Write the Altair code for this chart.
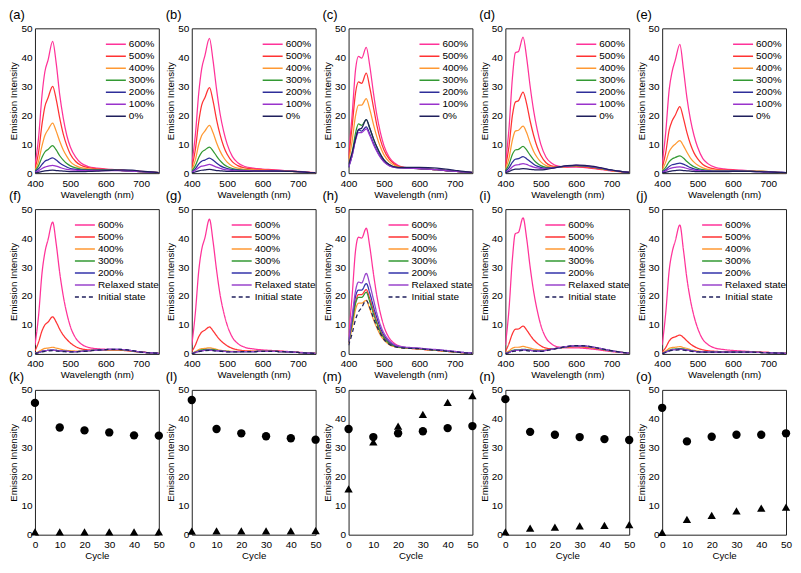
import altair as alt
import pandas as pd

FONT = "Liberation Sans"

# Wavelength grid (nm)
WL = [400, 410, 420, 428, 437, 450, 460, 470, 480, 490, 500, 515, 530, 550, 575, 600, 625, 650, 675, 700, 725, 750]

LOAD_NAMES = ["600%", "500%", "400%", "300%", "200%", "100%", "0%"]
LOAD_COLORS = ["#FF3399", "#FF3333", "#FF9933", "#339933", "#2E2E99", "#9933CC", "#1F1F5C"]
RELAX_NAMES = ["600%", "500%", "400%", "300%", "200%", "Relaxed state", "Initial state"]
RELAX_COLORS = ["#FF3399", "#FF3333", "#FF9933", "#339933", "#3333AA", "#9944CC", "#1F1F5C"]
RELAX_DASH = [[1, 0], [1, 0], [1, 0], [1, 0], [1, 0], [1, 0], [4, 3]]

PANEL_A = {
    "600%": [2.5, 12, 27, 35, 39, 45.5, 38, 27, 19, 13, 9, 5.5, 3.5, 2.3, 1.7, 1.4, 1.2, 1.0, 0.8, 0.6, 0.4, 0.2],
    "500%": [1.5, 7, 17, 23, 26, 30, 25.5, 19, 13.5, 9.5, 6.5, 4, 2.7, 1.9, 1.5, 1.3, 1.1, 0.9, 0.7, 0.5, 0.35, 0.2],
    "400%": [1, 4, 9.5, 13, 15, 17.3, 14.5, 11, 8, 5.8, 4, 2.6, 1.9, 1.5, 1.3, 1.2, 1.1, 0.9, 0.7, 0.5, 0.35, 0.2],
    "300%": [0.7, 2.5, 5.5, 7.3, 8.2, 9.5, 8, 6, 4.5, 3.3, 2.5, 1.8, 1.4, 1.2, 1.1, 1.1, 1.0, 0.9, 0.7, 0.5, 0.35, 0.2],
    "200%": [0.5, 1.5, 3, 4.1, 4.6, 5.3, 4.5, 3.5, 2.7, 2.1, 1.6, 1.3, 1.1, 1.0, 1.0, 1.0, 1.0, 0.9, 0.7, 0.5, 0.35, 0.2],
    "100%": [0.3, 0.8, 1.6, 2.1, 2.4, 2.7, 2.4, 2.0, 1.6, 1.3, 1.1, 1.0, 0.9, 0.9, 0.9, 0.9, 0.9, 0.8, 0.7, 0.5, 0.35, 0.2],
    "0%": [0.1, 0.3, 0.6, 0.8, 0.9, 1.0, 0.9, 0.8, 0.7, 0.6, 0.55, 0.5, 0.5, 0.6, 0.7, 0.9, 1.0, 1.1, 1.0, 0.7, 0.4, 0.2],
}
PANEL_B = {
    "600%": [3, 13, 28, 36, 40.5, 46.5, 39, 29, 20.5, 14.5, 10, 5.7, 3.6, 2.3, 1.7, 1.4, 1.2, 1.0, 0.8, 0.6, 0.4, 0.2],
    "500%": [1.8, 8, 18, 23.5, 26, 29.5, 25, 18.5, 13.3, 9.3, 6.5, 3.9, 2.6, 1.8, 1.4, 1.2, 1.0, 0.9, 0.7, 0.5, 0.3, 0.2],
    "400%": [1, 4.5, 10, 13, 14.5, 16.5, 14, 10.5, 7.6, 5.4, 3.8, 2.4, 1.7, 1.3, 1.1, 1.0, 0.9, 0.8, 0.6, 0.5, 0.3, 0.2],
    "300%": [0.6, 2.5, 5.5, 7.2, 8, 9, 7.7, 5.9, 4.3, 3.1, 2.3, 1.6, 1.2, 1.0, 0.9, 0.9, 0.8, 0.7, 0.6, 0.5, 0.3, 0.2],
    "200%": [0.4, 1.5, 3.2, 4.1, 4.5, 5.2, 4.5, 3.5, 2.6, 2.0, 1.6, 1.2, 1.0, 0.9, 0.8, 0.8, 0.8, 0.7, 0.6, 0.5, 0.3, 0.2],
    "100%": [0.3, 1, 1.9, 2.4, 2.6, 3, 2.6, 2.1, 1.7, 1.3, 1.1, 0.9, 0.8, 0.8, 0.8, 0.8, 0.7, 0.7, 0.6, 0.5, 0.3, 0.2],
    "0%": [0.1, 0.4, 0.8, 1.0, 1.1, 1.3, 1.1, 0.9, 0.8, 0.7, 0.6, 0.6, 0.6, 0.6, 0.7, 0.7, 0.7, 0.7, 0.6, 0.5, 0.3, 0.2],
}
PANEL_C = {
    "600%": [6, 20, 36, 40.3, 39.7, 43.4, 37, 28, 20, 14, 9.5, 5.5, 3.5, 2.2, 1.8, 1.6, 1.4, 1.2, 0.9, 0.7, 0.4, 0.2],
    "500%": [5, 16, 28, 31.5, 31, 34.5, 29.5, 23, 16.5, 11.5, 8, 4.8, 3.1, 2.1, 1.8, 1.6, 1.4, 1.2, 0.9, 0.7, 0.4, 0.2],
    "400%": [4, 11, 20, 23.5, 23.5, 25.7, 22, 17, 12.5, 9, 6.3, 3.9, 2.7, 2.0, 1.8, 1.6, 1.4, 1.2, 0.9, 0.7, 0.4, 0.2],
    "300%": [2, 7, 14, 17, 16.5, 18.5, 15.5, 12, 9, 6.5, 4.6, 2.9, 2.1, 1.8, 1.7, 1.6, 1.4, 1.2, 0.9, 0.7, 0.4, 0.2],
    "200%": [2, 6, 12, 15, 14.5, 16, 13.5, 10.5, 7.8, 5.6, 4, 2.6, 2, 1.8, 1.7, 1.6, 1.4, 1.2, 0.9, 0.7, 0.4, 0.2],
    "100%": [2, 6, 11.5, 14, 14, 15.3, 13, 10, 7.5, 5.4, 3.9, 2.6, 2, 1.8, 1.7, 1.6, 1.4, 1.2, 0.9, 0.7, 0.4, 0.2],
    "0%": [3, 7, 12, 15, 15.5, 18.5, 15.5, 12, 9, 6.5, 4.6, 3, 2.2, 2.0, 2.0, 2.0, 1.9, 1.7, 1.4, 1.0, 0.6, 0.3],
}
PANEL_D = {
    "600%": [3, 15, 33, 41.5, 42, 47, 40, 30, 21.5, 15, 10, 5.5, 3.5, 2.4, 2.1, 2.1, 1.9, 1.6, 1.2, 0.8, 0.5, 0.3],
    "500%": [2, 9, 20, 24.5, 25, 28, 24, 18, 13, 9, 6.2, 3.6, 2.5, 2.1, 2.2, 2.3, 2.1, 1.7, 1.3, 0.9, 0.5, 0.3],
    "400%": [1.3, 5, 11.5, 14.5, 14.8, 16.2, 14, 10.5, 7.5, 5.4, 3.9, 2.6, 2.1, 2.1, 2.3, 2.5, 2.3, 1.9, 1.4, 0.9, 0.5, 0.3],
    "300%": [0.8, 3, 6.5, 8, 8.2, 9.2, 8, 6.2, 4.6, 3.4, 2.6, 2, 1.9, 2.1, 2.4, 2.6, 2.4, 2.0, 1.5, 1.0, 0.6, 0.3],
    "200%": [0.5, 1.8, 3.8, 4.8, 5, 5.7, 5, 4, 3.1, 2.4, 2, 1.7, 1.8, 2.1, 2.5, 2.7, 2.5, 2.1, 1.6, 1.0, 0.6, 0.3],
    "100%": [0.3, 1, 2.2, 2.8, 2.9, 3.3, 3, 2.5, 2.1, 1.8, 1.6, 1.5, 1.7, 2.1, 2.5, 2.7, 2.6, 2.2, 1.6, 1.0, 0.6, 0.3],
    "0%": [0.2, 0.5, 1.1, 1.4, 1.4, 1.6, 1.5, 1.3, 1.2, 1.1, 1.1, 1.3, 1.6, 2.1, 2.6, 2.8, 2.7, 2.3, 1.7, 1.1, 0.6, 0.3],
}
PANEL_E = {
    "600%": [3, 14, 29, 35, 39, 44.5, 36, 26, 18.5, 13, 9, 5, 3.2, 2.0, 1.5, 1.2, 1.0, 0.8, 0.6, 0.5, 0.3, 0.2],
    "500%": [1.8, 7, 15, 18, 20, 23, 19, 14, 10, 7, 5, 3, 2, 1.4, 1.1, 1.0, 0.9, 0.7, 0.6, 0.5, 0.3, 0.2],
    "400%": [1, 3.8, 7.5, 9, 10, 11.2, 9.5, 7.2, 5.2, 3.8, 2.8, 1.8, 1.3, 1.0, 0.9, 0.8, 0.8, 0.7, 0.6, 0.5, 0.3, 0.2],
    "300%": [0.6, 2, 4, 4.9, 5.4, 6, 5.2, 4, 3, 2.2, 1.7, 1.2, 0.9, 0.8, 0.8, 0.8, 0.7, 0.7, 0.6, 0.5, 0.3, 0.2],
    "200%": [0.4, 1.2, 2.3, 2.9, 3.1, 3.5, 3.1, 2.5, 1.9, 1.5, 1.2, 0.9, 0.8, 0.7, 0.7, 0.7, 0.7, 0.6, 0.5, 0.4, 0.3, 0.2],
    "100%": [0.3, 0.8, 1.5, 1.8, 2.0, 2.2, 2.0, 1.6, 1.3, 1.0, 0.9, 0.7, 0.6, 0.6, 0.6, 0.6, 0.6, 0.6, 0.5, 0.4, 0.3, 0.2],
    "0%": [0.1, 0.3, 0.6, 0.8, 0.9, 1.0, 0.9, 0.8, 0.7, 0.6, 0.5, 0.5, 0.5, 0.5, 0.5, 0.6, 0.6, 0.6, 0.5, 0.4, 0.3, 0.2],
}
PANEL_F = {
    "600%": [3, 13, 28, 35, 39.5, 45.5, 38, 28, 20, 14, 9.5, 5.5, 3.5, 2.3, 1.8, 1.6, 1.5, 1.4, 1.0, 0.7, 0.4, 0.2],
    "500%": [1, 4, 8, 10, 11, 12.8, 11, 8.5, 6.5, 5, 3.8, 2.5, 1.8, 1.4, 1.3, 1.3, 1.3, 1.2, 0.9, 0.6, 0.4, 0.2],
    "400%": [0.3, 0.8, 1.5, 1.9, 2.0, 2.3, 2.0, 1.7, 1.4, 1.2, 1.1, 1.0, 1.0, 1.1, 1.3, 1.5, 1.5, 1.4, 1.0, 0.6, 0.4, 0.2],
    "300%": [0.2, 0.5, 0.9, 1.1, 1.2, 1.3, 1.2, 1.1, 1.0, 0.9, 0.8, 0.8, 0.9, 1.1, 1.3, 1.5, 1.5, 1.4, 1.0, 0.6, 0.4, 0.2],
    "200%": [0.2, 0.5, 0.9, 1.1, 1.2, 1.3, 1.2, 1.1, 1.0, 0.9, 0.8, 0.8, 0.9, 1.1, 1.3, 1.5, 1.6, 1.5, 1.1, 0.6, 0.4, 0.2],
    "Relaxed state": [0.2, 0.5, 0.9, 1.1, 1.2, 1.3, 1.2, 1.1, 1.0, 0.9, 0.8, 0.8, 0.9, 1.1, 1.3, 1.5, 1.6, 1.5, 1.1, 0.6, 0.4, 0.2],
    "Initial state": [0.1, 0.4, 0.7, 0.9, 1.0, 1.1, 1.0, 0.9, 0.8, 0.7, 0.7, 0.7, 0.8, 1.0, 1.3, 1.5, 1.6, 1.5, 1.1, 0.6, 0.4, 0.2],
}
PANEL_G = {
    "600%": [3, 14, 29, 36, 40, 46.5, 39, 29, 20.5, 14.5, 10, 5.7, 3.6, 2.3, 1.7, 1.4, 1.2, 1.0, 0.8, 0.6, 0.4, 0.2],
    "500%": [0.8, 3, 6, 7.5, 8.2, 9.3, 8, 6.3, 4.8, 3.7, 2.8, 1.9, 1.4, 1.1, 1.0, 1.0, 1.0, 0.9, 0.7, 0.5, 0.3, 0.2],
    "400%": [0.3, 0.8, 1.5, 1.8, 1.9, 2.1, 1.9, 1.6, 1.3, 1.1, 1.0, 0.9, 0.9, 0.9, 0.9, 0.9, 0.9, 0.8, 0.7, 0.5, 0.3, 0.2],
    "300%": [0.2, 0.6, 1.1, 1.4, 1.5, 1.6, 1.5, 1.3, 1.1, 1.0, 0.9, 0.8, 0.8, 0.8, 0.8, 0.9, 0.9, 0.8, 0.7, 0.5, 0.3, 0.2],
    "200%": [0.2, 0.5, 0.9, 1.1, 1.2, 1.3, 1.2, 1.1, 1.0, 0.9, 0.8, 0.8, 0.8, 0.8, 0.8, 0.9, 0.9, 0.8, 0.7, 0.5, 0.3, 0.2],
    "Relaxed state": [0.2, 0.5, 0.9, 1.1, 1.2, 1.3, 1.2, 1.1, 1.0, 0.9, 0.8, 0.8, 0.8, 0.8, 0.8, 0.9, 0.9, 0.8, 0.7, 0.5, 0.3, 0.2],
    "Initial state": [0.1, 0.4, 0.8, 1.0, 1.1, 1.2, 1.1, 1.0, 0.9, 0.8, 0.7, 0.7, 0.7, 0.8, 0.8, 0.9, 0.9, 0.8, 0.7, 0.5, 0.3, 0.2],
}
PANEL_H = {
    "600%": [6, 20, 36, 40.3, 40, 43.4, 37, 28, 20, 14, 9.5, 5.5, 3.6, 2.5, 2.0, 1.7, 1.4, 1.2, 0.9, 0.7, 0.4, 0.2],
    "500%": [4, 11, 18, 20.5, 20.5, 22.2, 19, 15, 11, 8, 5.8, 3.8, 2.8, 2.2, 1.9, 1.7, 1.4, 1.2, 0.9, 0.7, 0.4, 0.2],
    "400%": [3.5, 9, 15.5, 17.5, 17.5, 18.5, 15.5, 12, 9, 6.5, 4.8, 3.2, 2.5, 2.1, 1.9, 1.7, 1.4, 1.2, 0.9, 0.7, 0.4, 0.2],
    "300%": [4, 10.5, 17.5, 19.5, 19.5, 21.3, 18, 14, 10.5, 7.5, 5.5, 3.6, 2.7, 2.2, 2.0, 1.8, 1.5, 1.3, 1.0, 0.7, 0.4, 0.2],
    "200%": [4, 12, 20, 22, 22, 24.3, 21, 16.5, 12.5, 9, 6.5, 4.2, 3.0, 2.4, 2.1, 1.9, 1.6, 1.4, 1.1, 0.8, 0.5, 0.3],
    "Relaxed state": [4.5, 13, 22, 24.8, 24.5, 27.8, 24, 19, 14, 10, 7.2, 4.6, 3.2, 2.5, 2.2, 2.0, 1.7, 1.5, 1.2, 0.9, 0.5, 0.3],
    "Initial state": [3, 7, 12, 14.5, 16, 18.5, 16, 12.5, 9.5, 7, 5, 3.3, 2.5, 2.1, 1.9, 1.8, 1.5, 1.3, 1.0, 0.7, 0.4, 0.2],
}
PANEL_I = {
    "600%": [3, 15, 33, 41.5, 42, 47, 40, 30, 21.5, 15, 10, 5.5, 3.5, 2.4, 2.1, 2.1, 1.9, 1.6, 1.2, 0.8, 0.5, 0.3],
    "500%": [0.8, 3.5, 7, 8.5, 8.6, 9.6, 8.3, 6.5, 4.9, 3.7, 2.8, 2.0, 1.8, 2.0, 2.3, 2.5, 2.3, 2.0, 1.5, 1.0, 0.6, 0.3],
    "400%": [0.3, 1, 2, 2.3, 2.3, 2.6, 2.3, 2, 1.7, 1.5, 1.4, 1.4, 1.6, 2.0, 2.4, 2.6, 2.5, 2.1, 1.6, 1.0, 0.6, 0.3],
    "300%": [0.2, 0.6, 1.2, 1.4, 1.4, 1.6, 1.5, 1.3, 1.2, 1.1, 1.1, 1.3, 1.6, 2.0, 2.5, 2.7, 2.6, 2.2, 1.6, 1.0, 0.6, 0.3],
    "200%": [0.2, 0.5, 1.0, 1.2, 1.2, 1.4, 1.3, 1.2, 1.1, 1.0, 1.0, 1.2, 1.6, 2.0, 2.5, 2.8, 2.7, 2.3, 1.7, 1.1, 0.6, 0.3],
    "Relaxed state": [0.2, 0.5, 1.0, 1.2, 1.2, 1.4, 1.3, 1.2, 1.1, 1.0, 1.0, 1.2, 1.6, 2.1, 2.6, 2.8, 2.7, 2.3, 1.7, 1.1, 0.6, 0.3],
    "Initial state": [0.1, 0.4, 0.8, 1.0, 1.0, 1.2, 1.1, 1.0, 1.0, 0.9, 0.9, 1.1, 1.5, 2.0, 2.6, 2.9, 2.8, 2.3, 1.7, 1.1, 0.6, 0.3],
}
PANEL_J = {
    "600%": [3, 14, 29, 35, 39, 44.5, 36, 26, 18.5, 13, 9, 5, 3.2, 2.0, 1.5, 1.2, 1.0, 0.8, 0.6, 0.5, 0.3, 0.2],
    "500%": [0.6, 2.2, 4.5, 5.5, 5.9, 6.5, 5.7, 4.5, 3.4, 2.6, 2.0, 1.4, 1.1, 0.9, 0.8, 0.8, 0.8, 0.7, 0.6, 0.5, 0.3, 0.2],
    "400%": [0.3, 1, 1.9, 2.2, 2.3, 2.5, 2.2, 1.9, 1.5, 1.2, 1.0, 0.8, 0.7, 0.7, 0.7, 0.7, 0.7, 0.6, 0.5, 0.4, 0.3, 0.2],
    "300%": [0.2, 0.7, 1.3, 1.6, 1.7, 1.8, 1.7, 1.4, 1.2, 1.0, 0.8, 0.7, 0.6, 0.6, 0.6, 0.6, 0.6, 0.6, 0.5, 0.4, 0.3, 0.2],
    "200%": [0.2, 0.6, 1.1, 1.4, 1.5, 1.6, 1.5, 1.3, 1.1, 0.9, 0.8, 0.7, 0.6, 0.6, 0.6, 0.6, 0.6, 0.6, 0.5, 0.4, 0.3, 0.2],
    "Relaxed state": [0.2, 0.6, 1.1, 1.4, 1.5, 1.6, 1.5, 1.3, 1.1, 0.9, 0.8, 0.7, 0.6, 0.6, 0.6, 0.6, 0.6, 0.6, 0.5, 0.4, 0.3, 0.2],
    "Initial state": [0.1, 0.5, 1.0, 1.2, 1.3, 1.4, 1.3, 1.1, 1.0, 0.8, 0.7, 0.6, 0.6, 0.6, 0.6, 0.6, 0.6, 0.6, 0.5, 0.4, 0.3, 0.2],
}

CYCLES = [0, 10, 20, 30, 40, 50]
K_CIRCLE = [45.5, 37, 36, 35.3, 34.3, 34.2]
K_TRIANGLE = [1.0, 1.0, 1.0, 1.0, 1.0, 1.0]
L_CIRCLE = [46.5, 36.5, 35, 34, 33.3, 32.8]
L_TRIANGLE = [1.2, 1.3, 1.3, 1.3, 1.3, 1.4]
M_CIRCLE = [36.5, 33.7, 35, 35.7, 36.8, 37.5]
M_TRIANGLE = [15.8, 32, 37.5, 41.5, 45.7, 48]
N_CIRCLE = [46.8, 35.5, 34.5, 33.7, 33, 32.7]
N_TRIANGLE = [1.0, 2.3, 2.6, 3.0, 3.2, 3.5]
O_CIRCLE = [43.8, 32.2, 33.8, 34.5, 34.5, 35]
O_TRIANGLE = [0.8, 5.3, 6.7, 8.2, 9.2, 9.5]

PW, PH = 124, 145
Y_TICKS = [0, 10, 20, 30, 40, 50]


def y_enc(field):
    return alt.Y(field, type="quantitative",
                 scale=alt.Scale(domain=[0, 50], nice=False),
                 axis=alt.Axis(values=Y_TICKS, title="Emission Intensity"))


def spectrum(label, data, names, colors, legend_x, dashes=None):
    rows = []
    for i, n in enumerate(names):
        for w, v in zip(WL, data[n]):
            rows.append({"wl": w, "v": v, "s": n, "k": i})
    df = pd.DataFrame(rows)
    leg = alt.Legend(title=None, orient="none", legendX=legend_x, legendY=10)
    enc = dict(
        x=alt.X("wl:Q", scale=alt.Scale(domain=[400, 750], nice=False),
                axis=alt.Axis(values=[400, 500, 600, 700], title="Wavelength (nm)")),
        y=y_enc("v"),
        color=alt.Color("s:N", scale=alt.Scale(domain=names, range=colors), legend=leg),
        order=alt.Order("k:Q"),
    )
    if dashes is not None:
        enc["strokeDash"] = alt.StrokeDash("s:N", scale=alt.Scale(domain=names, range=dashes), legend=leg)
    return alt.Chart(df, title=alt.TitleParams(label)).mark_line(
        strokeWidth=1.25, interpolate="monotone", clip=True
    ).encode(**enc).properties(width=PW, height=PH)


def cycles(label, circ, tri):
    rows = [{"c": c, "v": v, "m": "circle"} for c, v in zip(CYCLES, circ)]
    rows += [{"c": c, "v": v, "m": "triangle"} for c, v in zip(CYCLES, tri)]
    df = pd.DataFrame(rows)
    return alt.Chart(df, title=alt.TitleParams(label)).mark_point(
        filled=True, opacity=1, color="black", size=70
    ).encode(
        x=alt.X("c:Q", scale=alt.Scale(domain=[0, 50], nice=False),
                axis=alt.Axis(values=CYCLES, title="Cycle")),
        y=y_enc("v"),
        shape=alt.Shape("m:N", scale=alt.Scale(domain=["circle", "triangle"], range=["circle", "triangle-up"]),
                        legend=None),
    ).properties(width=PW, height=PH)


panels = [
    spectrum("(a)", PANEL_A, LOAD_NAMES, LOAD_COLORS, 70),
    spectrum("(b)", PANEL_B, LOAD_NAMES, LOAD_COLORS, 70),
    spectrum("(c)", PANEL_C, LOAD_NAMES, LOAD_COLORS, 70),
    spectrum("(d)", PANEL_D, LOAD_NAMES, LOAD_COLORS, 70),
    spectrum("(e)", PANEL_E, LOAD_NAMES, LOAD_COLORS, 70),
    spectrum("(f)", PANEL_F, RELAX_NAMES, RELAX_COLORS, 39, RELAX_DASH),
    spectrum("(g)", PANEL_G, RELAX_NAMES, RELAX_COLORS, 39, RELAX_DASH),
    spectrum("(h)", PANEL_H, RELAX_NAMES, RELAX_COLORS, 39, RELAX_DASH),
    spectrum("(i)", PANEL_I, RELAX_NAMES, RELAX_COLORS, 39, RELAX_DASH),
    spectrum("(j)", PANEL_J, RELAX_NAMES, RELAX_COLORS, 39, RELAX_DASH),
    cycles("(k)", K_CIRCLE, K_TRIANGLE),
    cycles("(l)", L_CIRCLE, L_TRIANGLE),
    cycles("(m)", M_CIRCLE, M_TRIANGLE),
    cycles("(n)", N_CIRCLE, N_TRIANGLE),
    cycles("(o)", O_CIRCLE, O_TRIANGLE),
]

chart = alt.concat(
    *panels, columns=5, spacing=alt.RowColnumber(row=36, column=33), bounds="flush"
).resolve_scale(
    color="independent", strokeDash="independent", shape="independent"
).resolve_legend(color="independent", strokeDash="independent").properties(
    padding=0, background="white"
).configure_view(
    stroke="#222222", strokeWidth=1
).configure_axis(
    domain=False, ticks=False, grid=False, labelFlush=False,
    labelFont=FONT, labelFontSize=10, labelColor="black", labelPadding=3,
    titleFont=FONT, titleFontSize=9.7, titleFontWeight="normal", titleColor="black", titlePadding=2,
).configure_axisX(
    labelPadding=5, titlePadding=1,
).configure_legend(
    symbolType="stroke", symbolSize=400, symbolStrokeWidth=1.5,
    labelFont=FONT, labelFontSize=10, labelColor="black", labelOffset=2,
    clipHeight=12, rowPadding=0, padding=0,
).configure_title(
    anchor="start", frame="bounds", font=FONT, fontSize=13, fontWeight="normal",
    color="black", offset=1,
)

chart.save("out.html", embed_options={"renderer": "svg", "actions": False})
